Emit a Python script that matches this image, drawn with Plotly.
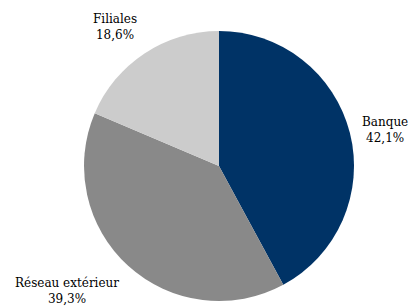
import math
import plotly.graph_objects as go

labels = ["Banque", "Réseau extérieur", "Filiales"]
values = [42.1, 39.3, 18.6]
colors = ["#003366", "#898989", "#cccccc"]

W, H = 409, 306
cx, cy, r = 219, 166, 135  # pie centre and radius in pixels

dom_x = [(cx - r) / W, (cx + r) / W]
dom_y = [(H - cy - r) / H, (H - cy + r) / H]

fig = go.Figure(go.Pie(
    labels=labels,
    values=values,
    sort=False,
    direction="clockwise",
    rotation=0,
    marker=dict(colors=colors, line=dict(width=0)),
    textinfo="none",
    domain=dict(x=dom_x, y=dom_y),
    showlegend=False,
    hoverinfo="skip",
))

font = dict(family="DejaVu Serif", size=12, color="black")
total = sum(values)
cum = 0.0
for lab, v in zip(labels, values):
    mid = (cum + v / 2) / total * 2 * math.pi
    cum += v
    s, c = math.sin(mid), math.cos(mid)
    R = 1.08 * r
    px = cx + R * s
    py = cy - R * c
    xa = "left" if s > 0.3 else ("right" if s < -0.3 else "center")
    ya = "bottom" if c > 0.3 else ("top" if c < -0.3 else "middle")
    pct = f"{v / total * 100:.1f}".replace(".", ",") + "%"
    fig.add_annotation(
        x=px / W, y=(H - py) / H, xref="paper", yref="paper",
        text=f"{lab}<br>{pct}", showarrow=False,
        xanchor=xa, yanchor=ya, align="center", font=font,
    )

fig.update_layout(
    width=W, height=H,
    margin=dict(l=0, r=0, t=0, b=0),
    paper_bgcolor="white",
    font=font,
)
fig.write_html("out.html", config={"displayModeBar": False},
               post_script="document.body.style.margin='0';")
